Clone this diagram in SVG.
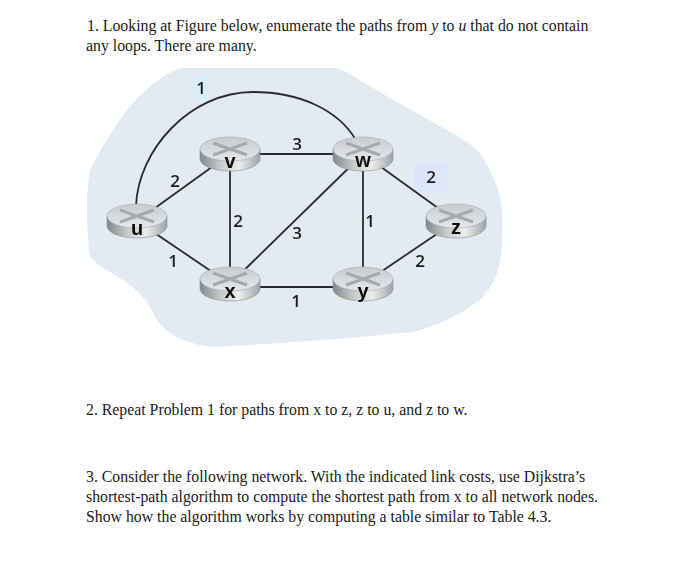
<svg xmlns="http://www.w3.org/2000/svg" width="700" height="568" viewBox="0 0 700 568">
<style>
.t{font-family:"Liberation Serif","Times New Roman",serif;font-size:15.8px;fill:#1a1a1a}
.i{font-style:italic}
.c{font-family:"Open Sans","Liberation Sans",sans-serif;font-size:17px;font-weight:600;fill:#1c1c1e;text-anchor:middle}
.n{font-family:"Liberation Sans",sans-serif;font-size:20px;font-weight:bold;fill:#0c0c0c;text-anchor:middle}
.e{fill:none;stroke:#2b2b2e;stroke-width:1.8}
.side{fill:url(#s);stroke:#8b8f92;stroke-width:.6}
.top{fill:url(#f);stroke:#a5a9ac;stroke-width:.6}
.x{fill:none;stroke:#a6aaad;stroke-width:3}
</style>
<defs>
<linearGradient id="s" x1="0" x2="1" y1="0" y2="0"><stop offset="0" stop-color="#85888b"/><stop offset=".35" stop-color="#c9cbcd"/><stop offset=".65" stop-color="#ecedee"/><stop offset="1" stop-color="#a0a3a6"/></linearGradient>
<linearGradient id="f" x1="0" x2="0" y1="0" y2="1"><stop offset="0" stop-color="#c8cbce"/><stop offset="1" stop-color="#e6e7e9"/></linearGradient>
<filter id="soft" x="0" y="0" width="100%" height="100%"><feGaussianBlur stdDeviation="0.4"/></filter>
<g id="r">
<path class="side" d="M-30 -5V5A30 12 0 0 0 30 5V-5Z"/>
<ellipse class="top" cx="0" cy="-5" rx="30" ry="12"/>
<path class="x" d="M-17 -11L17 1M-17 1L17 -11"/>
</g>
</defs>
<rect width="700" height="568" fill="#fff"/>
<g id="figure" filter="url(#soft)">
<path id="blob" fill="#e3eaf2" d="M180 68C165 74 148 86 133 103C120 117 101 148 90 170C86 190 86 230 90 257C100 268 112 273 123 280C136 289 145 298 150 307C155 318 158 323 163 327C172 336 180 340 190 342C200 346 208 347 217 347L280 343L350 338L413 332C425 329 436 325 447 320C460 314 470 307 480 300C492 288 498 275 500 260C503 240 503 220 502 210C500 197 498 187 493 177C488 166 484 157 477 150C468 142 458 136 447 130L397 102L343 70L337 68Z"/>
<rect x="194" y="75" width="15" height="27" fill="#d7effa"/>
<rect x="414" y="163" width="33" height="28" fill="#dce6fa"/>
<g id="connectors">
<path class="e" d="M136 206C138 150 190 92 253 92C300 92 338 110 356 140"/>
<path class="e" d="M230 154H363M230 154V284M230 287H363M363 154V284"/>
<path class="e" d="M137 221L230 154M137 221L230 284M230 284L363 154M363 154L456 221M456 221L363 284"/>
</g>
<g id="node-u"><use href="#r" x="137" y="221"/><text class="n" x="137" y="235">u</text></g>
<g id="node-v"><use href="#r" x="230" y="154"/><text class="n" x="230" y="168">v</text></g>
<g id="node-w"><use href="#r" x="363" y="154"/><text class="n" x="363" y="167">w</text></g>
<g id="node-x"><use href="#r" x="230" y="284"/><text class="n" x="230" y="298">x</text></g>
<g id="node-y"><use href="#r" x="363" y="284"/><text class="n" x="363" y="298">y</text></g>
<g id="node-z"><use href="#r" x="456" y="221"/><text class="n" x="456" y="234">z</text></g>
<g id="labels">
<text class="c" x="201" y="94">1</text>
<text class="c" x="175" y="187">2</text>
<text class="c" x="297" y="150">3</text>
<text class="c" x="431" y="183">2</text>
<text class="c" x="173" y="267">1</text>
<text class="c" x="238" y="227">2</text>
<text class="c" x="297" y="239">3</text>
<text class="c" x="370" y="227">1</text>
<text class="c" x="420" y="267">2</text>
<text class="c" x="296" y="307">1</text>
</g>
</g>
<g id="text">
<text class="t" x="87" y="30.5">1.  Looking at Figure below, enumerate the paths from <tspan class="i">y</tspan> to <tspan class="i">u</tspan> that do not contain</text>
<text class="t" x="86" y="51">any loops. There are many.</text>
<text class="t" x="86" y="415">2. Repeat Problem 1 for paths from x to z, z to u, and z to w.</text>
<text class="t" x="86" y="482">3. Consider the following network. With the indicated link costs, use Dijkstra’s</text>
<text class="t" x="86" y="502">shortest-path algorithm to compute the shortest path from x to all network nodes.</text>
<text class="t" x="86" y="522">Show how the algorithm works by computing a table similar to Table 4.3.</text>
</g>
</svg>
